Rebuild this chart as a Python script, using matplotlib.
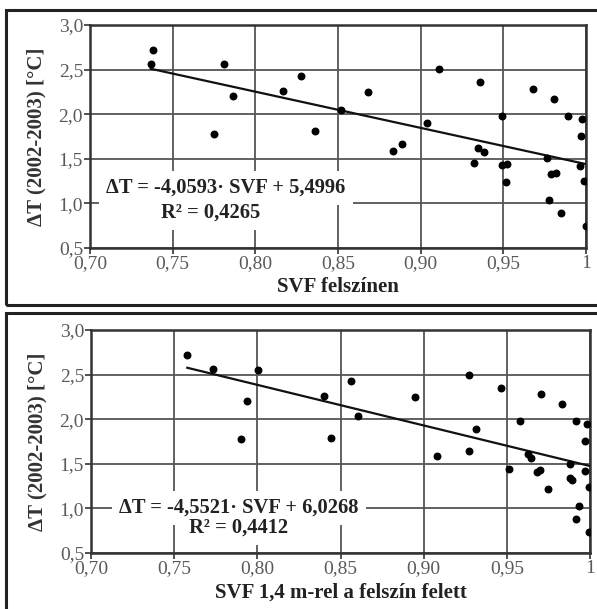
import matplotlib.pyplot as plt
from matplotlib.patches import Rectangle

plt.rcParams['font.family'] = ['Liberation Serif', 'DejaVu Serif']

# upper panel: SVF at surface
svf_surface = [0.7367, 0.7383, 0.7812, 0.7863, 0.7752, 0.8169, 0.8274,
               0.8360, 0.8518, 0.8683, 0.8834, 0.8884, 0.9039, 0.9112,
               0.9358, 0.9344, 0.9382, 0.9322, 0.9493, 0.9490, 0.9525,
               0.9515, 0.9680, 0.9807, 0.9767, 0.9789, 0.9820, 0.9777,
               0.9846, 0.9894, 0.9977, 0.9969, 0.9962, 0.9990, 1.0000]
dt_surface = [2.563, 2.720, 2.563, 2.207, 1.780, 2.264, 2.432,
              1.812, 2.047, 2.249, 1.584, 1.663, 1.898, 2.510,
              2.361, 1.624, 1.573, 1.450, 1.983, 1.430, 1.438,
              1.237, 2.286, 2.174, 1.506, 1.333, 1.344, 1.038,
              0.896, 1.983, 1.950, 1.759, 1.423, 1.247, 0.747]

# lower panel: SVF at 1.4 m
svf_14m = [0.7579, 0.7735, 0.8005, 0.7939, 0.7901, 0.8402, 0.8563,
           0.8603, 0.8440, 0.8949, 0.9080, 0.9272, 0.9272, 0.9312,
           0.9462, 0.9512, 0.9578, 0.9624, 0.9642, 0.9678, 0.9698,
           0.9704, 0.9748, 0.9829, 0.9879, 0.9879, 0.9891, 0.9917,
           0.9934, 0.9917, 0.9979, 0.9971, 0.9971, 0.9995, 0.9995]
dt_14m = [2.720, 2.563, 2.552, 2.204, 1.778, 2.260, 2.425,
          2.036, 1.793, 2.246, 1.584, 2.499, 1.646, 1.890,
          2.353, 1.438, 1.976, 1.610, 1.562, 1.411, 1.427,
          2.283, 1.221, 2.170, 1.498, 1.344, 1.315, 1.976,
          1.027, 0.881, 1.946, 1.756, 1.419, 1.237, 0.732]

fit_surface = (-4.0593, 5.4996, 0.4265)
fit_14m = (-4.5521, 6.0268, 0.4412)

x_ticks = [0.70, 0.75, 0.80, 0.85, 0.90, 0.95, 1.0]
x_labels = ['0,70', '0,75', '0,80', '0,85', '0,90', '0,95', '1']
y_ticks = [0.5, 1.0, 1.5, 2.0, 2.5, 3.0]
y_labels = ['0,5', '1,0', '1,5', '2,0', '2,5', '3,0']


def fmt(v, nd=4):
    return f'{v:.{nd}f}'.replace('.', ',')


def panel(ax, x, y, fit, xlabel, txt1, txt2):
    a, b, r2 = fit
    ax.set_xlim(0.70, 1.0)
    ax.set_ylim(0.5, 3.0)
    ax.set_xticks(x_ticks)
    ax.set_xticklabels(x_labels)
    ax.set_yticks(y_ticks)
    ax.set_yticklabels(y_labels)
    ax.grid(True, color='#555555', lw=1.3, zorder=0)
    ax.set_axisbelow(True)
    for s in ax.spines.values():
        s.set_color('#333333')
        s.set_linewidth(1.8)
    ax.tick_params(colors='#333333', labelcolor='#5a5a5a', labelsize=14,
                   direction='out', length=4, width=1.2, pad=1)
    ax.scatter(x, y, s=22, color='black', zorder=4)
    x0, x1 = min(x), max(x)
    ax.plot([x0, x1], [a * x0 + b, a * x1 + b], color='#111111', lw=1.6, zorder=3)
    ax.set_xlabel(xlabel, fontsize=15, fontweight='bold', color='#222222', labelpad=4)
    ax.set_ylabel('ΔT (2002-2003) [°C]', fontsize=15, fontweight='bold',
                  color='#333333', labelpad=9)
    eq = f'ΔT = {fmt(a)}· SVF + {fmt(b)}'
    r2txt = f'R² = {fmt(r2)}'
    # white boxes first, then the text on top of both boxes
    for (tx, ty), s in ((txt1, eq), (txt2, r2txt)):
        ax.text(tx, ty, s, ha='center', va='center', fontsize=14.8,
                fontweight='bold', color='white', zorder=2,
                bbox=dict(facecolor='white', edgecolor='none', pad=5))
    for (tx, ty), s in ((txt1, eq), (txt2, r2txt)):
        ax.text(tx, ty, s, ha='center', va='center', fontsize=14.8,
                fontweight='bold', color='#222222', zorder=2.5)


fig = plt.figure(figsize=(5.97, 6.09), dpi=100)

# panel frames
fig.patches.append(Rectangle((0.01, 0.499), 1.05, 0.4846, transform=fig.transFigure,
                             fill=False, edgecolor='#222222', lw=2.2))
fig.patches.append(Rectangle((0.01, -0.05), 1.05, 0.536, transform=fig.transFigure,
                             fill=False, edgecolor='#222222', lw=2.2))

ax1 = fig.add_axes([0.1508, 0.5928, 0.8308, 0.3662])
panel(ax1, svf_surface, dt_surface, fit_surface, 'SVF felszínen',
      (0.7822, 1.173), (0.7732, 0.892))

ax2 = fig.add_axes([0.1524, 0.092, 0.836, 0.3661])
panel(ax2, svf_14m, dt_14m, fit_14m, 'SVF 1,4 m-rel a felszín felett',
      (0.7889, 1.008), (0.7889, 0.784))

fig.savefig('out.png', dpi=100)
